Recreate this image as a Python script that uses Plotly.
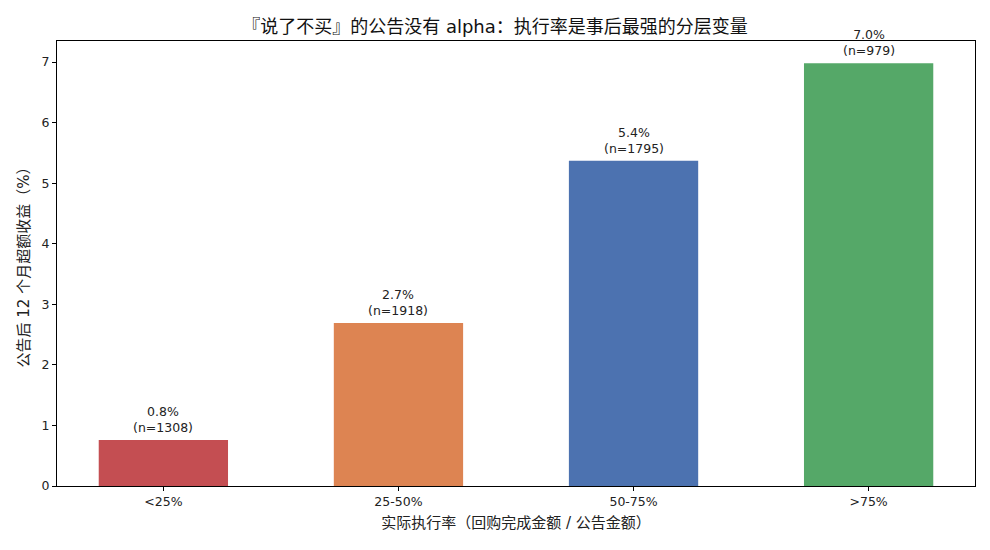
import plotly.graph_objects as go

categories = ["<25%", "25-50%", "50-75%", ">75%"]
values = [0.76, 2.69, 5.37, 6.98]
counts = [1308, 1918, 1795, 979]
colors = ["#c44e52", "#dd8452", "#4c72b0", "#55a868"]

FONT = "'DejaVu Sans', 'Noto Sans CJK SC', sans-serif"

xs = list(range(len(categories)))
fig = go.Figure()
fig.add_trace(go.Bar(
    x=xs, y=values, width=0.55, marker=dict(color=colors, line=dict(width=0)),
    showlegend=False, hoverinfo="skip",
))
for x, v, n in zip(xs, values, counts):
    fig.add_annotation(
        x=x, y=v, text=f"{v:.1f}%<br>(n={n})", showarrow=False,
        yanchor="bottom", yshift=3, font=dict(family=FONT, size=12.5, color="#222"),
    )

fig.update_layout(
    width=990, height=550,
    margin=dict(l=57, r=15, t=41, b=64),
    plot_bgcolor="white", paper_bgcolor="white",
    font=dict(family=FONT, size=12.5, color="#222"),
    title=dict(text="『说了不买』的公告没有 alpha：执行率是事后最强的分层变量",
               x=0.5, xanchor="center", y=0.951, yanchor="middle",
               font=dict(size=18, color="#111")),
)
fig.update_xaxes(
    range=[-0.4525, 3.4525], tickmode="array", tickvals=xs, ticktext=categories,
    showline=True, linecolor="black", linewidth=1, mirror=True,
    ticks="outside", ticklen=4, tickcolor="black", showgrid=False, zeroline=False,
    title=dict(text="实际执行率（回购完成金额 / 公告金额）", standoff=9, font=dict(size=15)),
)
fig.update_yaxes(
    range=[0, 7.347], tickmode="array", tickvals=list(range(8)),
    showline=True, linecolor="black", linewidth=1, mirror=True,
    ticks="outside", ticklen=4, tickcolor="black", showgrid=False, zeroline=False,
    title=dict(text="公告后 12 个月超额收益（%）", standoff=8, font=dict(size=15)),
)

fig.write_html("out.html")
